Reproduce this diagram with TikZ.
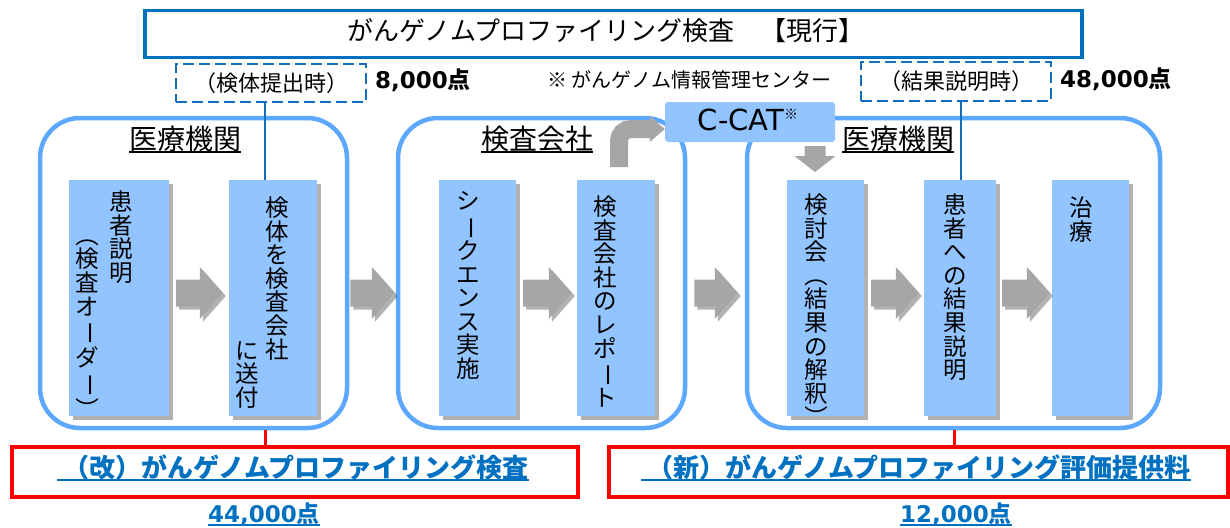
\documentclass[tikz,border=0pt]{standalone}
\usepackage{fontspec}
\setmainfont{Noto Sans CJK JP}
\newfontfamily\dv{DejaVu Sans}
\usetikzlibrary{shadows,calc}
\definecolor{boxblue}{RGB}{146,196,255}
\definecolor{contblue}{RGB}{92,168,255}
\definecolor{titleblue}{RGB}{0,112,192}
\definecolor{dashblue}{RGB}{20,110,190}
\definecolor{arrgray}{RGB}{166,166,166}
\definecolor{pred}{RGB}{255,0,0}
\newcommand\fs[1]{\fontsize{#1}{#1}\selectfont}
\newcommand\vr[1]{\rotatebox[origin=c]{-90}{#1}}
\newcommand\ulin[3]{\begingroup\setbox0=\hbox{#3}\rlap{\rule[-#1]{\wd0}{#2}}\box0\endgroup}
\newcommand\harrow[2]{%
 \fill[blockarrow] let \p1=#1, \p2=#2 in
  (\x1,\y1+13.5pt) -- (\x2-23pt,\y1+13.5pt) -- (\x2-23pt,\y1+26pt) -- (\x2,\y1)
  -- (\x2-23pt,\y1-26pt) -- (\x2-23pt,\y1-13.5pt) -- (\x1,\y1-13.5pt) -- cycle;}
\begin{document}
\begin{tikzpicture}[x=1pt,y=-1pt,
 every node/.style={inner sep=0pt},
 titlebox/.style={draw=titleblue, line width=3.5pt},
 dashbox/.style={draw=dashblue, line width=2.8pt, dash pattern=on 11pt off 5pt},
 container/.style={draw=contblue, line width=4.5pt, rounded corners=40pt},
 stepbox/.style={fill=boxblue, drop shadow={shadow xshift=3.5pt, shadow yshift=-3.5pt, opacity=.3, fill=black}},
 vcol/.style={anchor=north, align=center, font=\fontsize{23.5}{23.6}\selectfont},
 lbl/.style={anchor=base, font=\fs{28}},
 redbox/.style={draw=pred, line width=3.5pt},
 redline/.style={draw=pred, line width=3pt},
 blueline/.style={draw=dashblue, line width=2.5pt},
 blockarrow/.style={fill=arrgray, drop shadow={shadow xshift=3pt, shadow yshift=-3pt, opacity=.3, fill=black}},
 btext/.style={anchor=base, text=titleblue, font=\fs{26}\bfseries},
]
\useasboundingbox (0,0) rectangle (1230,527);

% containers
\node[container, minimum width=307pt, minimum height=310pt] (c1) at (193.5,273) {};
\node[container, minimum width=287pt, minimum height=310pt] (c2) at (541.5,273) {};
\node[container, minimum width=413pt, minimum height=310pt] (c3) at (953.5,273) {};

% title
\node[titlebox, minimum width=937pt, minimum height=47pt] (title) at (613.5,34) {};
\node[anchor=base, font=\fs{26}] (titletext) at (606,41) {がんゲノムプロファイリング検査　【現行】};

% top labels
\node[dashbox, minimum width=190pt, minimum height=38pt, font=\fs{22}] (d1) at (271,83) {（検体提出時）};
\node[anchor=base west, font=\fs{23}\bfseries] (pt1) at (375,88) {{\dv 8,000}点};
\node[anchor=base west, font=\fs{20}] (note) at (547,87) {※ がんゲノム情報管理センター};
\node[dashbox, minimum width=190pt, minimum height=39pt, font=\fs{22}] (d2) at (956,81.5) {（結果説明時）};
\node[anchor=base west, font=\fs{23}\bfseries] (pt2) at (1060,87) {{\dv 48,000}点};

% container labels
\node[lbl] (l1) at (185,149) {\ulin{3.5pt}{1.5pt}{医療機関}};
\node[lbl] (l2) at (537,149) {\ulin{3.5pt}{1.5pt}{検査会社}};
\node[lbl] (l3) at (898,149) {\ulin{3.5pt}{1.5pt}{医療機関}};

% connector line positions
\coordinate (k1) at (265,0);
\coordinate (k2) at (961,0);
\coordinate (k3) at (954,0);

% step boxes
\node[stepbox, minimum width=100pt, minimum height=236pt] (b1) at (119,298) {};
\node[stepbox, minimum width=88pt, minimum height=236pt] (b2) at (273,298) {};
\node[stepbox, minimum width=77pt, minimum height=236pt] (b3) at (477.5,298) {};
\node[stepbox, minimum width=78pt, minimum height=236pt] (b4) at (616,298) {};
\node[stepbox, minimum width=77pt, minimum height=236pt] (b5) at (825.5,298) {};
\node[stepbox, minimum width=72pt, minimum height=236pt] (b6) at (960,298) {};
\node[stepbox, minimum width=77pt, minimum height=236pt] (b7) at (1090.5,298) {};

\draw[blueline] (d1.south -| k1) -- (b2.north -| k1);
\draw[blueline] (d2.south -| k2) -- (b6.north -| k2);

% vertical texts
\node[vcol] (t1a) at (121,190.5) {患\\者\\説\\明};
\node[vcol] (t1b) at (87,223.5) {\vr{（}\\検\\査\\オ\\\vr{ー}\\ダ\\\vr{ー}\\\vr{）}};
\node[vcol] (t2a) at (277,196.5) {検\\体\\を\\検\\査\\会\\社};
\node[vcol] (t2b) at (247,341) {に\\送\\付};
\node[vcol] (t3) at (468,191) {シ\\\vr{ー}\\ク\\エ\\ン\\ス\\実\\施};
\node[vcol] (t4) at (605,195.5) {検\\査\\会\\社\\の\\レ\\ポ\\\vr{ー}\\ト};
\node[vcol] (t5) at (816,193.5) {検\\討\\会\\\vr{（}\\結\\果\\の\\解\\釈\\\vr{）}};
\node[vcol] (t6) at (955,193.5) {患\\者\\へ\\の\\結\\果\\説\\明};
\node[vcol] (t7) at (1081,196.5) {治\\療};

% block arrows
\coordinate (a2s) at (b2.east -| c1.east);
\coordinate (a2e) at (b3.west -| c2.west);
\coordinate (a4s) at (b4.east -| c2.east);
\coordinate (a4e) at (b5.west -| c3.west);
\harrow{([shift={(7pt,5pt)}]b1.east)}{([shift={(-6pt,5pt)}]b2.west)}
\harrow{([shift={(1pt,5pt)}]a2s)}{([shift={(-1pt,5pt)}]a2e)}
\harrow{([shift={(7pt,5pt)}]b3.east)}{([shift={(-5pt,5pt)}]b4.west)}
\harrow{([shift={(7pt,5pt)}]a4s)}{([shift={(-7pt,5pt)}]a4e)}
\harrow{([shift={(7pt,5pt)}]b5.east)}{([shift={(-5pt,5pt)}]b6.west)}
\harrow{([shift={(6pt,5pt)}]b6.east)}{([shift={(-2pt,5pt)}]b7.west)}

% C-CAT
\node[fill=boxblue, rounded corners=3pt, minimum width=170pt, minimum height=40pt] (cc) at (750,122) {};
\node[anchor=base, font=\dv\fs{29}] (cctext) at (748,130) {C-CAT\raisebox{11pt}{\fs{14}\rmfamily ※}};

% bent arrow into C-CAT
\coordinate (bs) at (619,167);
\coordinate (tip) at ([yshift=-7pt]cc.west);
\draw[draw=arrgray, line width=18pt, rounded corners=12pt] (bs) |- ([xshift=-14pt]tip);
\fill[arrgray] (tip) -- ([shift={(-15pt,13pt)}]tip) -- ([shift={(-15pt,-13pt)}]tip) -- cycle;

% down arrow out of C-CAT
\coordinate (dt) at (815,146);
\fill[arrgray] ([xshift=-10.5pt]dt) -- ([xshift=10.5pt]dt) -- ([shift={(10.5pt,-10pt)}]dt)
  -- ([shift={(20.5pt,-10pt)}]dt) -- ([yshift=-26pt]dt) -- ([shift={(-20.5pt,-10pt)}]dt)
  -- ([shift={(-10.5pt,-10pt)}]dt) -- cycle;

% bottom
\node[redbox, minimum width=566pt, minimum height=50pt] (r1) at (295,472) {};
\node[btext] (r1t) at (293,477) {\ulin{4pt}{1.8pt}{\ （改）がんゲノムプロファイリング検査}};
\node[btext, font=\fs{23}\bfseries] (r1p) at (264,522) {\ulin{3.5pt}{1.8pt}{{\dv 44,000}点}};
\node[redbox, minimum width=619pt, minimum height=50pt] (r2) at (918.5,472) {};
\node[btext] (r2t) at (916,477) {\ulin{4pt}{1.8pt}{\ （新）がんゲノムプロファイリング評価提供料}};
\node[btext, font=\fs{23}\bfseries] (r2p) at (956,522) {\ulin{3.5pt}{1.8pt}{{\dv 12,000}点}};

\draw[redline] (c1.south -| k1) -- (r1.north -| k1);
\draw[redline] (c3.south -| k3) -- (r2.north -| k3);
\end{tikzpicture}
\end{document}
